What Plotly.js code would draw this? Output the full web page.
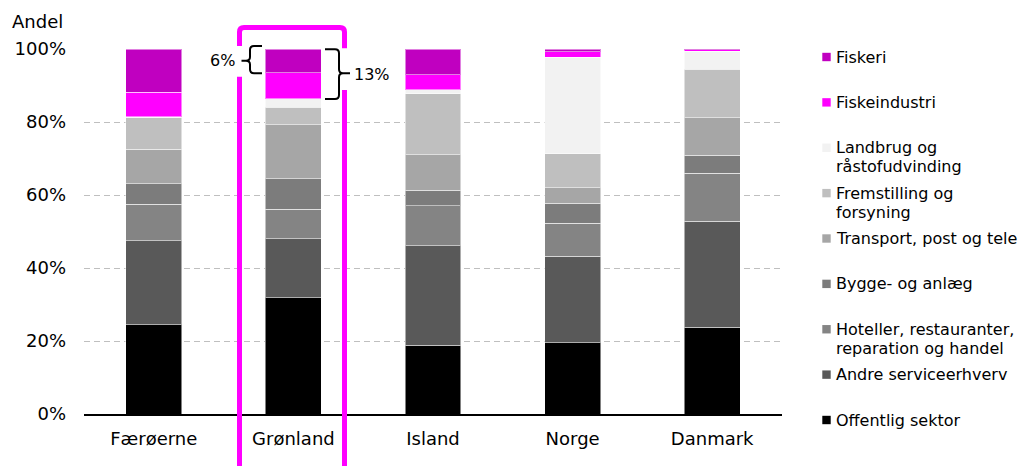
<!DOCTYPE html>
<html>
<head>
<meta charset="utf-8">
<script src="https://cdn.plot.ly/plotly-3.0.1.min.js"></script>
<style>
html,body{margin:0;padding:0;background:#fff;}
#chart{width:1019px;height:466px;}
</style>
</head>
<body>
<div id="chart"></div>
<script>
// ---- data (percent shares) ----
var categories = ['Færøerne', 'Grønland', 'Island', 'Norge', 'Danmark'];
var offentlig     = [24.5, 31.9, 18.8, 19.5, 23.8];
var andre         = [23.0, 16.1, 27.3, 23.7, 29.0];
var hoteller      = [9.9, 8.1, 10.9, 9.0, 13.1];
var bygge         = [5.7, 8.4, 4.3, 5.5, 5.0];
var transport     = [9.4, 14.8, 9.7, 4.3, 10.3];
var fremstilling  = [8.6, 4.7, 16.7, 9.3, 13.2];
var landbrug      = [0.4, 2.4, 1.2, 26.4, 5.0];
var fiskeindustri = [6.7, 7.1, 4.0, 1.5, 0.4];
var fiskeri       = [11.8, 6.5, 7.1, 0.8, 0.2];

var seriesNames = ['Offentlig sektor', 'Andre serviceerhverv', 'Hoteller, restauranter,<br>reparation og handel',
  'Bygge- og anlæg', 'Transport, post og tele', 'Fremstilling og<br>forsyning',
  'Landbrug og<br>råstofudvinding', 'Fiskeindustri', 'Fiskeri'];
var seriesValues = [offentlig, andre, hoteller, bygge, transport, fremstilling, landbrug, fiskeindustri, fiskeri];
var seriesColors = ['#000000', '#595959', '#848484', '#7C7C7C', '#A6A6A6', '#BFBFBF', '#F2F2F2', '#FF00FF', '#C000C0'];

var yTickVals = [0, 20, 40, 60, 80, 100];
var yTickText = ['0%', '20%', '40%', '60%', '80%', '100%'];
var yLabel = 'Andel';
var bracketLabels = ['6%', '13%'];

var FONT = 'DejaVu Sans, Verdana, sans-serif';

// ---- geometry helpers (pixel -> paper) ----
var L = 84, R = 782, T = 49, B = 414;
function px(x) { return (x - L) / (R - L); }
function py(y) { return (B - y) / (B - T); }
function P(x, y) { return px(x).toFixed(5) + ',' + py(y).toFixed(5); }

var traces = seriesValues.map(function (vals, i) {
  return {
    type: 'bar', x: categories, y: vals, name: seriesNames[i],
    marker: { color: seriesColors[i], line: { color: 'rgba(255,255,255,0.5)', width: 1 } },
    showlegend: false, hoverinfo: 'x+y+name'
  };
});

var shapes = [];
var annotations = [];

// custom legend (top to bottom: reverse of stacking order)
var legendTop = 57, legendStep = 45.375;
for (var k = 0; k < seriesNames.length; k++) {
  var idx = seriesNames.length - 1 - k;
  var cy = legendTop + k * legendStep;
  shapes.push({
    type: 'rect', xref: 'paper', yref: 'paper',
    x0: px(822.3), x1: px(830.7), y0: py(cy + 4.2), y1: py(cy - 4.2),
    fillcolor: seriesColors[idx], line: { width: 0 }
  });
  var lines = seriesNames[idx].split('<br>');
  for (var j = 0; j < lines.length; j++) {
    annotations.push({
      xref: 'paper', yref: 'paper', x: px(834), y: py(cy + j * 19),
      xanchor: 'left', yanchor: 'middle', showarrow: false,
      text: lines[j], font: { family: FONT, size: 16, color: '#000' }
    });
  }
}

// y axis label
annotations.push({
  xref: 'paper', yref: 'paper', x: px(10), y: py(22), xanchor: 'left', yanchor: 'middle',
  showarrow: false, text: yLabel, font: { family: FONT, size: 18, color: '#000' }
});

// magenta highlight frame around Grønland
var mag = 'M' + P(239.5, 470) + ' L' + P(239.5, 76.7) +
  ' M' + P(239.5, 46) + ' L' + P(239.5, 32) + ' Q' + P(239.5, 27.5) + ' ' + P(244, 27.5) +
  ' L' + P(340, 27.5) + ' Q' + P(344.5, 27.5) + ' ' + P(344.5, 32) + ' L' + P(344.5, 48.3) +
  ' M' + P(344.5, 90) + ' L' + P(344.5, 470);
shapes.push({ type: 'path', xref: 'paper', yref: 'paper', path: mag, line: { color: '#FF00FF', width: 5 } });

// left brace "{"
var b1 = 'M' + P(262, 46) + ' L' + P(254, 46) + ' Q' + P(250, 46) + ' ' + P(250, 50) +
  ' L' + P(250, 57) + ' Q' + P(250, 60.7) + ' ' + P(246, 60.7) + ' L' + P(241.5, 60.7) +
  ' M' + P(246, 60.7) + ' Q' + P(250, 60.7) + ' ' + P(250, 64.4) +
  ' L' + P(250, 69.3) + ' Q' + P(250, 73.3) + ' ' + P(254, 73.3) + ' L' + P(262, 73.3);
shapes.push({ type: 'path', xref: 'paper', yref: 'paper', path: b1, line: { color: '#000', width: 2 } });

// right brace "}"
var b2 = 'M' + P(325, 49.3) + ' L' + P(335, 49.3) + ' Q' + P(339, 49.3) + ' ' + P(339, 53.3) +
  ' L' + P(339, 69.3) + ' Q' + P(339, 73.3) + ' ' + P(343, 73.3) + ' L' + P(350, 73.3) +
  ' M' + P(343, 73.3) + ' Q' + P(339, 73.3) + ' ' + P(339, 77.3) +
  ' L' + P(339, 95) + ' Q' + P(339, 99) + ' ' + P(335, 99) + ' L' + P(325, 99);
shapes.push({ type: 'path', xref: 'paper', yref: 'paper', path: b2, line: { color: '#000', width: 2 } });

annotations.push({
  xref: 'paper', yref: 'paper', x: px(237), y: py(61), xanchor: 'right', yanchor: 'middle',
  showarrow: false, text: bracketLabels[0], font: { family: FONT, size: 16, color: '#000' }
});
annotations.push({
  xref: 'paper', yref: 'paper', x: px(352), y: py(74), xanchor: 'left', yanchor: 'middle',
  showarrow: false, text: bracketLabels[1], font: { family: FONT, size: 16, color: '#000' }
});

var layout = {
  width: 1019, height: 466,
  margin: { l: L, r: 1019 - R, t: T, b: 466 - B, pad: 0 },
  paper_bgcolor: '#fff', plot_bgcolor: '#fff',
  barmode: 'stack', bargap: 0.6,
  font: { family: FONT, size: 18, color: '#000' },
  xaxis: {
    type: 'category', showgrid: false, zeroline: false,
    showline: true, linecolor: '#000', linewidth: 1.5,
    ticks: '', tickfont: { family: FONT, size: 18, color: '#000' },
    ticklabelstandoff: 8
  },
  yaxis: {
    range: [0, 100], tickvals: yTickVals, ticktext: yTickText,
    showgrid: true, gridcolor: '#BFBFBF', griddash: '6px,4px', gridwidth: 1,
    zeroline: false, showline: false, ticks: '',
    tickfont: { family: FONT, size: 18, color: '#000' },
    ticklabelstandoff: 17
  },
  shapes: shapes,
  annotations: annotations,
  showlegend: false
};

Plotly.newPlot('chart', traces, layout, { displayModeBar: false, staticPlot: true });
</script>
</body>
</html>
